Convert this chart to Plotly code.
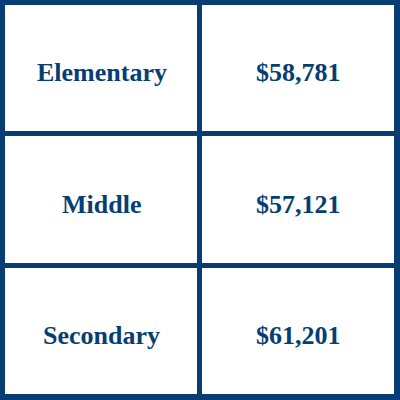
import plotly.graph_objects as go

# table contents
levels = ["Elementary", "Middle", "Secondary"]
salaries = ["$58,781", "$57,121", "$61,201"]

navy = "#063e73"
font = "'Liberation Serif', 'Times New Roman', serif"

rows = list(range(len(levels)))
cols = [0, 1]

# white cells on a navy background, the gaps make the grid lines
z = [[0, 0] for _ in rows]

heat = go.Heatmap(
    z=z, x=cols, y=rows,
    xgap=5, ygap=5,
    colorscale=[[0, "white"], [1, "white"]],
    showscale=False,
    hoverinfo="skip",
)

annotations = []
for r in rows:
    for c, txt in zip(cols, [levels[r], salaries[r]]):
        annotations.append(dict(
            x=c, y=r, xref="x", yref="y",
            text="<b>" + txt + "</b>",
            showarrow=False,
            yshift=-4,
            font=dict(family=font, size=26, color=navy),
        ))

fig = go.Figure(data=[heat])
fig.update_layout(
    width=400, height=400,
    margin=dict(l=2.5, r=2.5, t=2.5, b=2.5, pad=0),
    paper_bgcolor=navy,
    plot_bgcolor=navy,
    annotations=annotations,
    showlegend=False,
)
fig.update_xaxes(visible=False, range=[-0.5, 1.5], fixedrange=True)
fig.update_yaxes(visible=False, range=[2.5, -0.5], fixedrange=True)

# the page body has a default 8px margin, drop it
fig.write_html("out.html", config={"displayModeBar": False},
               post_script="document.body.style.margin='0';")
